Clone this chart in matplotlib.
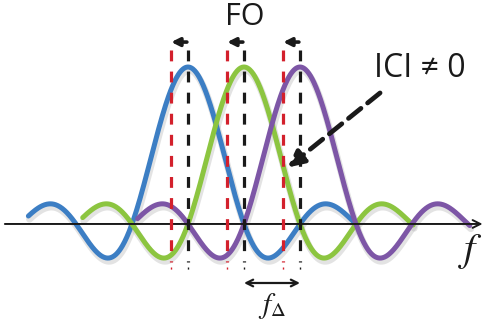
import numpy as np
import matplotlib
matplotlib.use('Agg')
import matplotlib.pyplot as plt

# OFDM subcarriers (sinc spectra) with a frequency offset (FO) causing ICI.
# x axis is in units of subcarrier spacing, y is normalised amplitude.

subcarrierCentres = [0, 1, 2]
subcarrierColours = ['#3c7ec4', '#8cc540', '#7d56a6']
# extent of each drawn sinc, relative to its centre
spanLeft = [-2.85, -2.88, -2.9]
spanRight = [3.0, 3.02, 3.03]
frequencyOffset = -0.3

plt.rcParams['font.family'] = ['Open Sans', 'DejaVu Sans']
plt.rcParams['mathtext.fontset'] = 'stix'

fig = plt.figure(figsize=(4.83, 3.26), dpi=100)
ax = fig.add_axes([0, 0, 1, 1])
ax.set_xlim(-3.357, 5.268)
ax.set_ylim(-0.65, 1.427)
ax.axis('off')

# sinc curves with a soft shadow
for centre, colour, left, right in zip(subcarrierCentres, subcarrierColours, spanLeft, spanRight):
    f = np.linspace(centre + left, centre + right, 600)
    amp = np.sinc(f - centre)
    ax.plot(f + 0.02, amp - 0.02, color='#b0b0b0', lw=5.0, alpha=0.35,
            solid_capstyle='round', zorder=1)
    ax.plot(f, amp, color=colour, lw=3.6, solid_capstyle='round', zorder=2)

# frequency axis
ax.annotate('', xy=(5.26, 0), xytext=(-3.27, 0),
            arrowprops=dict(arrowstyle='->', lw=1.4, color='#1a1a1a',
                            mutation_scale=14, shrinkA=0, shrinkB=0), zorder=3)

# ideal (black) and offset (red) sampling positions
dashTop = 1.108
dashBottom = -0.242
dotBottom = -0.33
for centre in subcarrierCentres:
    for x, colour in [(centre, '#1a1a1a'), (centre + frequencyOffset, '#d3202c')]:
        ax.plot([x, x], [dashTop, dashBottom], color=colour, lw=2.3,
                linestyle=(0, (3.4, 3.2)), zorder=4)
        ax.plot([x, x], [dashBottom - 0.035, dotBottom], color=colour, lw=1.0,
                linestyle=(0, (1.5, 6)), zorder=4)
    # FO arrow on top
    ax.annotate('', xy=(centre + frequencyOffset, 1.159), xytext=(centre - 0.02, 1.159),
                arrowprops=dict(arrowstyle='-|>', lw=2.6, color='#1a1a1a',
                                mutation_scale=12, shrinkA=0, shrinkB=0))

ax.text(1.02, 1.32, 'FO', ha='center', va='center', fontsize=22, color='#1a1a1a')

# ICI annotation
ax.text(3.33, 0.99, 'ICI \u2260 0', ha='left', va='center', fontsize=23, color='#1a1a1a')
ax.annotate('', xy=(1.78, 0.36), xytext=(3.43, 0.835),
            arrowprops=dict(arrowstyle='-|>', lw=3.4, color='#1a1a1a', linestyle=(0, (3.4, 1.8)),
                            mutation_scale=24, shrinkA=0, shrinkB=0))

# axis label
ax.text(5.05, -0.17, '$f$', ha='center', va='center', fontsize=29, color='#1a1a1a')

# subcarrier spacing
ax.annotate('', xy=(1, -0.376), xytext=(2, -0.376),
            arrowprops=dict(arrowstyle='<->', lw=1.6, color='#1a1a1a',
                            mutation_scale=12, shrinkA=0, shrinkB=0))
ax.text(1.5, -0.52, r'$f_{\Delta}$', ha='center', va='center', fontsize=21, color='#1a1a1a')

fig.savefig('out.png', dpi=100)
